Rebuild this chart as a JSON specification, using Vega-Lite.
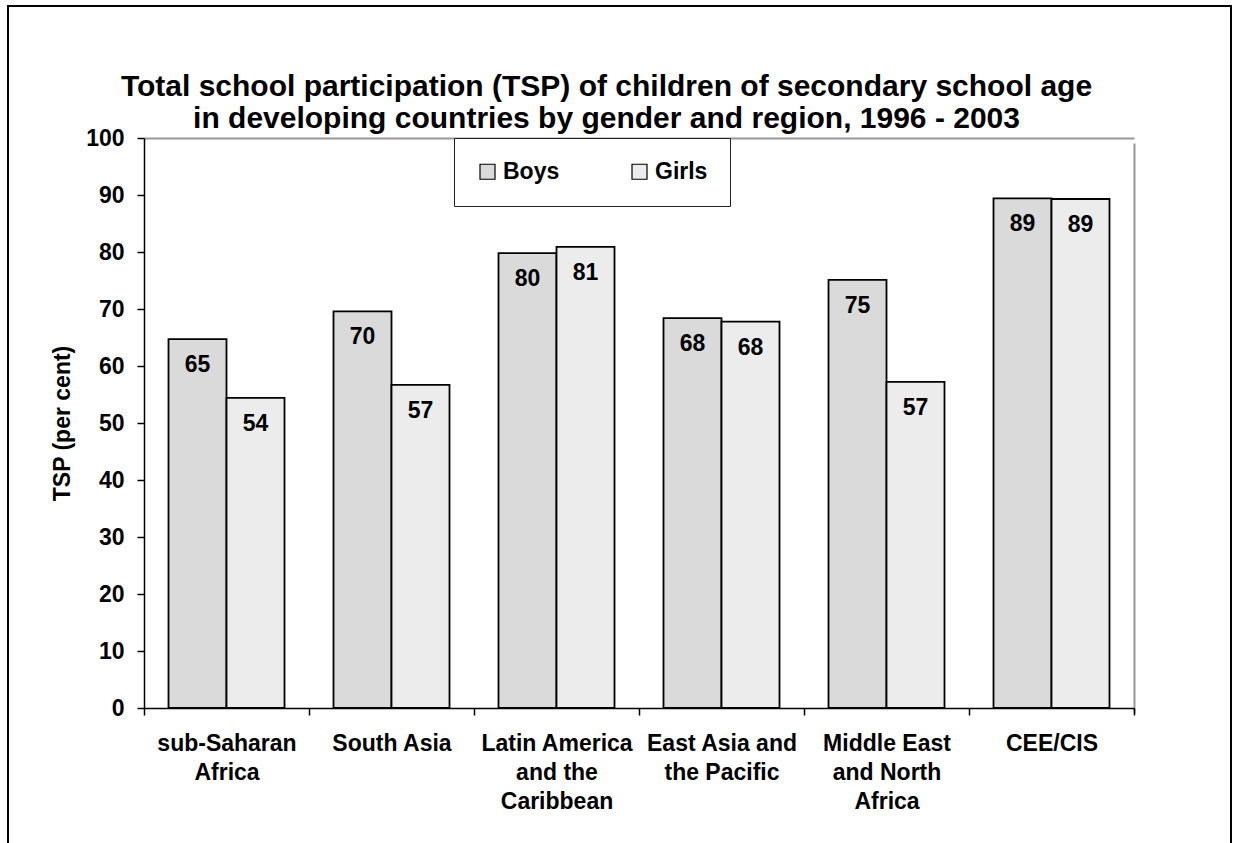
{
  "$schema": "https://vega.github.io/schema/vega-lite/v6.json",
  "autosize": "none",
  "width": 1223,
  "height": 839,
  "padding": {"left": 8, "top": 6, "right": 2, "bottom": 0},
  "background": "white",
  "title": {
    "text": [
      "Total school participation (TSP) of children of secondary school age",
      "in developing countries by gender and region, 1996 - 2003"
    ],
    "anchor": "middle",
    "frame": "group",
    "baseline": "top",
    "offset": -68,
    "dx": -13,
    "dy": 60,
    "font": "Liberation Sans",
    "fontSize": 30,
    "fontWeight": "bold",
    "color": "black",
    "lineHeight": 32
  },
  "data": {
    "values": [
      {"region": "sub-Saharan\nAfrica", "gender": "Boys", "tsp": 64.7},
      {"region": "sub-Saharan\nAfrica", "gender": "Girls", "tsp": 54.4},
      {"region": "South Asia", "gender": "Boys", "tsp": 69.6},
      {"region": "South Asia", "gender": "Girls", "tsp": 56.7},
      {"region": "Latin America\nand the\nCaribbean", "gender": "Boys", "tsp": 79.8},
      {"region": "Latin America\nand the\nCaribbean", "gender": "Girls", "tsp": 80.9},
      {"region": "East Asia and\nthe Pacific", "gender": "Boys", "tsp": 68.4},
      {"region": "East Asia and\nthe Pacific", "gender": "Girls", "tsp": 67.8},
      {"region": "Middle East\nand North\nAfrica", "gender": "Boys", "tsp": 75.1},
      {"region": "Middle East\nand North\nAfrica", "gender": "Girls", "tsp": 57.2},
      {"region": "CEE/CIS", "gender": "Boys", "tsp": 89.4},
      {"region": "CEE/CIS", "gender": "Girls", "tsp": 89.3}
    ]
  },
  "config": {
    "view": {"stroke": "black", "strokeWidth": 2},
    "font": "Liberation Sans"
  },
  "encoding": {
    "x": {
      "field": "region",
      "type": "nominal",
      "sort": null,
      "scale": {"range": [136, 1126], "paddingInner": 0, "paddingOuter": 0},
      "axis": {
        "title": null,
        "orient": "bottom",
        "offset": -137,
        "domainColor": "black",
        "domainWidth": 1.5,
        "tickBand": "extent",
        "tickColor": "black",
        "tickSize": 7,
        "tickWidth": 1.5,
        "labelAngle": 0,
        "labelFont": "Liberation Sans",
        "labelFontSize": 23,
        "labelFontWeight": "bold",
        "labelColor": "black",
        "labelBaseline": "top",
        "labelPadding": 17,
        "labelLineHeight": 29,
        "labelLimit": 400,
        "labelOverlap": false,
        "labelExpr": "isString(datum.value) ? split(datum.value, '\\n') : ''",
        "grid": true,
        "gridColor": "#999999",
        "gridWidth": 2,
        "gridOpacity": {"condition": {"test": "datum.value === 'CEE/CIS'", "value": 1}, "value": 0}
      }
    },
    "xOffset": {
      "field": "gender",
      "type": "nominal",
      "sort": ["Boys", "Girls"],
      "scale": {"paddingInner": 0, "paddingOuter": 0.4224}
    },
    "y": {
      "field": "tsp",
      "type": "quantitative",
      "scale": {"domain": [0, 100], "range": [702, 132], "nice": false},
      "axis": {
        "title": "TSP (per cent)",
        "orient": "left",
        "offset": -136,
        "values": [0, 10, 20, 30, 40, 50, 60, 70, 80, 90, 100],
        "domainColor": "black",
        "domainWidth": 1.5,
        "tickColor": "black",
        "tickSize": 7,
        "tickWidth": 1.5,
        "labelFont": "Liberation Sans",
        "labelFontSize": 23,
        "labelFontWeight": "bold",
        "labelColor": "black",
        "labelPadding": 13,
        "grid": true,
        "gridColor": "#999999",
        "gridWidth": 2,
        "gridOpacity": {"condition": {"test": "datum.value === 100", "value": 1}, "value": 0},
        "titleFont": "Liberation Sans",
        "titleFontSize": 23,
        "titleFontWeight": "bold",
        "titleColor": "black",
        "titleX": -75,
        "titleBaseline": "alphabetic"
      }
    }
  },
  "layer": [
    {
      "mark": {"type": "bar", "stroke": "black", "strokeWidth": 1.8},
      "encoding": {
        "fill": {
          "field": "gender",
          "type": "nominal",
          "scale": {"domain": ["Boys", "Girls"], "range": ["#dadada", "#ececec"]},
          "legend": {
            "orient": "none",
            "direction": "horizontal",
            "legendX": 446,
            "legendY": 132,
            "title": null,
            "padding": 22,
            "strokeColor": "#222222",
            "fillColor": "white",
            "symbolType": "square",
            "symbolSize": 225,
            "symbolStrokeColor": "black",
            "symbolStrokeWidth": 1.2,
            "labelFont": "Liberation Sans",
            "labelFontSize": 23,
            "labelFontWeight": "bold",
            "labelColor": "black",
            "labelOffset": 4,
            "columnPadding": 68
          }
        }
      }
    },
    {
      "mark": {
        "type": "text",
        "baseline": "alphabetic",
        "dy": 33,
        "font": "Liberation Sans",
        "fontSize": 23,
        "fontWeight": "bold",
        "color": "black"
      },
      "encoding": {
        "text": {"field": "tsp", "type": "quantitative", "format": ".0f"}
      }
    }
  ]
}
